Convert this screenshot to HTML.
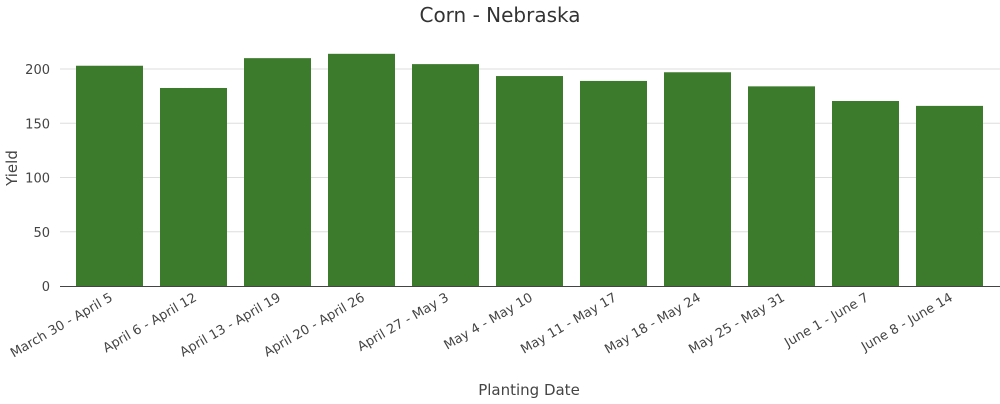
<!DOCTYPE html>
<html><head><meta charset="utf-8"><style>
body{margin:0;background:#fff;font-family:"DejaVu Sans","Liberation Sans",sans-serif;}
text{fill:#444;}
</style></head><body>
<svg id="chart" width="1000" height="400" xmlns="http://www.w3.org/2000/svg">
<text x="500" y="22" text-anchor="middle" font-size="20" style="fill:#333">Corn - Nebraska</text>
<g id="grid"></g><g id="bars"></g><g id="xticks"></g><g id="yticks"></g>
<line x1="60" x2="1000" y1="286.5" y2="286.5" stroke="#444" stroke-width="1"/>
<text transform="translate(17,168) rotate(-90)" text-anchor="middle" font-size="15">Yield</text>
<text x="529" y="395" text-anchor="middle" font-size="15">Planting Date</text>
</svg>
<script>
const categories=["March 30 - April 5","April 6 - April 12","April 13 - April 19","April 20 - April 26","April 27 - May 3","May 4 - May 10","May 11 - May 17","May 18 - May 24","May 25 - May 31","June 1 - June 7","June 8 - June 14"];
const yields=[203,182.5,210,214,204.5,193.5,189,197,184,170.5,166];
const yTicks=[0,50,100,150,200];
const NS="http://www.w3.org/2000/svg";
const x0=67.5,band=84,pad=8.5;
function xPos(i){return x0+i*band;}
function yPos(v){return 286-v*1.085;}
function mk(t,a){const e=document.createElementNS(NS,t);for(const k in a)e.setAttribute(k,a[k]);return e;}
const grid=document.getElementById('grid'),yt=document.getElementById('yticks');
yTicks.forEach(v=>{
  if(v>0){const l=mk('line',{x1:60,x2:1000,y1:yPos(v),y2:yPos(v),stroke:'#ddd','stroke-width':1});
  
  grid.appendChild(l);}
  const t=mk('text',{x:50,y:yPos(v)+5,'text-anchor':'end','font-size':13});
  t.textContent=v;
  
  yt.appendChild(t);
});
const bars=document.getElementById('bars'),xt=document.getElementById('xticks');
categories.forEach((c,i)=>{
  const r=mk('rect',{x:xPos(i)+pad,y:yPos(yields[i]),width:band-2*pad,height:286-yPos(yields[i]),fill:'#3c7a2c'});
  
  bars.appendChild(r);
  const cx=xPos(i)+band/2;
  const t=mk('text',{transform:`translate(${cx+4},${300}) rotate(-30)`,'text-anchor':'end','font-size':13});
  t.textContent=c;
  
  xt.appendChild(t);
});
</script>
</body></html>
